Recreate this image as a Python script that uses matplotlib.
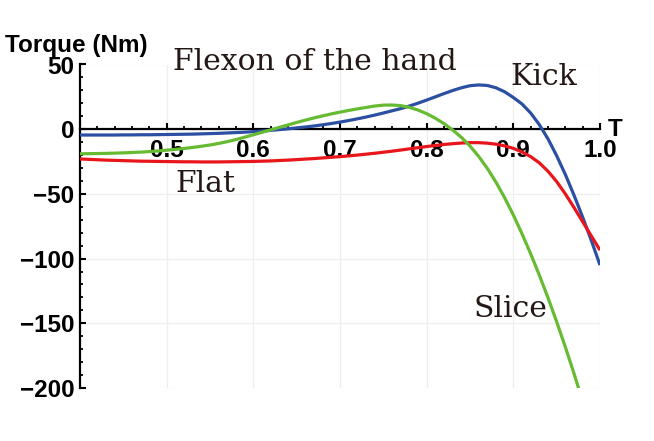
import numpy as np
import matplotlib
matplotlib.use("Agg")
import matplotlib.pyplot as plt
from matplotlib.ticker import MultipleLocator

# values, T from 0.40 to 1.00 in steps of 0.01
t = np.round(np.arange(0.40, 1.0001, 0.01), 2)

kick = [-4.5, -4.5, -4.5, -4.5, -4.5, -4.4, -4.4, -4.3, -4.3, -4.2,
        -4.1, -4.0, -3.9, -3.8, -3.6, -3.4, -3.2, -2.9, -2.6, -2.3,
        -1.9, -1.4, -0.9, -0.3, 0.3, 1.0, 1.7, 2.5, 3.4, 4.4,
        5.5, 6.7, 8.0, 9.4, 10.9, 12.5, 14.2, 15.9, 17.9, 20.1,
        22.5, 25.0, 27.5, 29.9, 32.0, 33.6, 34.2, 33.8, 32.0, 28.9,
        24.5, 19.5, 12.5, 3.5, -7.5, -20.5, -35.0, -51.0, -68.0, -86.0,
        -105.0]

flat = [-23.0, -23.3, -23.6, -23.9, -24.1, -24.3, -24.5, -24.7, -24.8, -24.9,
        -25.0, -25.1, -25.2, -25.2, -25.3, -25.3, -25.3, -25.2, -25.1, -25.0,
        -24.9, -24.7, -24.5, -24.2, -23.9, -23.5, -23.1, -22.7, -22.2, -21.7,
        -21.2, -20.6, -20.0, -19.3, -18.6, -17.8, -17.0, -16.1, -15.2, -14.3,
        -13.4, -12.6, -11.8, -11.2, -10.7, -10.4, -10.4, -10.8, -11.6, -12.9,
        -14.8, -17.6, -21.2, -26.0, -32.5, -40.5, -50.0, -60.5, -71.5, -82.5,
        -93.5]

# the Slice curve leaves the plot at the bottom, so it stops at 0.98
slice_ = [-19.0, -18.9, -18.8, -18.7, -18.5, -18.3, -18.0, -17.7, -17.3, -16.8,
          -16.2, -15.6, -14.9, -14.1, -13.2, -12.2, -11.0, -9.6, -8.0, -6.2,
          -4.3, -2.4, -0.5, 1.4, 3.3, 5.2, 7.0, 8.7, 10.3, 11.8,
          13.2, 14.5, 15.7, 16.8, 17.9, 18.6, 18.7, 18.2, 16.9, 14.8,
          12.0, 8.5, 4.3, -0.6, -6.3, -13.0, -21.0, -30.3, -41.0, -53.0,
          -66.3, -80.8, -96.3, -112.8, -130.3, -148.8, -168.3, -188.8, -210.3]

labels = ["Flexon of the hand", "Kick", "Flat", "Slice"]
label_pos = [(0.507, 45.7), (0.8966, 34.1), (0.510, -48.5), (0.854, -145.5)]

blue = "#2b4fa3"
red = "#e8161b"
green = "#66bb33"
ink = "#231815"

fig = plt.figure(figsize=(6.54, 4.41), dpi=100)
ax = fig.add_axes([80 / 654, 1 - 388 / 441, 520 / 654, 323.5 / 441])

ax.plot(t, kick, color=blue, lw=2.3, solid_capstyle="butt")
ax.plot(t, flat, color=red, lw=2.3, solid_capstyle="butt")
ax.plot(t[:len(slice_)], slice_, color=green, lw=2.3, solid_capstyle="butt")

ax.set_xlim(0.4, 1.0)
ax.set_ylim(-200, 50)

ax.spines["top"].set_visible(False)
ax.spines["right"].set_visible(False)
ax.spines["bottom"].set_position(("data", 0))
for s in ("left", "bottom"):
    ax.spines[s].set_linewidth(1.6)
    ax.spines[s].set_zorder(1)

ax.set_xticks([0.5, 0.6, 0.7, 0.8, 0.9, 1.0])
ax.set_xticklabels(["0.5", "0.6", "0.7", "0.8", "0.9", "1.0"])
ax.set_yticks([50, 0, -50, -100, -150, -200])
ax.set_yticklabels(["50", "0", "\u221250", "\u2212100", "\u2212150", "\u2212200"])
ax.xaxis.set_minor_locator(MultipleLocator(0.02))
ax.yaxis.set_minor_locator(MultipleLocator(10))

tick_font = dict(family="Liberation Sans", weight="bold", size=17.5)
for lab in ax.get_xticklabels() + ax.get_yticklabels():
    lab.set_fontfamily("Liberation Sans")
    lab.set_fontweight("bold")
    lab.set_fontsize(17.5)

ax.tick_params(which="major", direction="in", length=4, width=1.5, color="black")
ax.tick_params(which="minor", direction="in", length=2.5, width=1.3, color="black")
ax.tick_params(axis="x", which="major", pad=7)
ax.tick_params(axis="y", which="major", pad=4)

ax.grid(True, which="major", color="#eeeeee", lw=0.9, zorder=0)
ax.set_axisbelow(True)

for txt, (x, y) in zip(labels, label_pos):
    ax.text(x, y, txt, family="DejaVu Serif", size=21.5, color=ink,
            ha="left", va="baseline", clip_on=False)

ax.text(1.009, -5, "T", ha="left", va="baseline", clip_on=False, **tick_font)
fig.text(5 / 654, 1 - 52 / 441, "Torque (Nm)", ha="left", va="baseline", **tick_font)

fig.savefig("out.png", dpi=100)
